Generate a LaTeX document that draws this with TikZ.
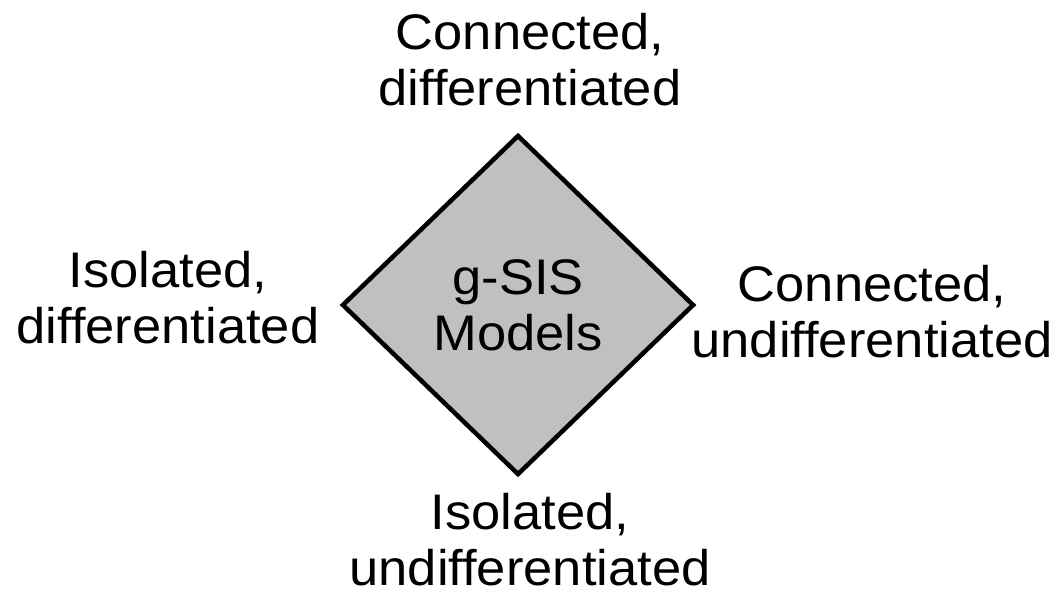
\documentclass[tikz,border=0pt]{standalone}
\usepackage{fontspec}
\setmainfont{Liberation Sans}[FakeStretch=1.05]
\usetikzlibrary{shapes.geometric}
\definecolor{coregray}{RGB}{192,192,192}
\begin{document}
\begin{tikzpicture}[x=1pt,y=1pt,
  label text/.style={align=center, inner sep=0pt,
    font=\fontsize{50}{56}\selectfont},
  core/.style={diamond, draw=black, line width=4.5pt, fill=coregray,
    minimum width=352pt, minimum height=340pt, inner sep=0pt,
    align=center, font=\fontsize{50}{56}\selectfont}]
  \useasboundingbox (0,0) rectangle (1059,-597);

  % central diamond
  \node[core] (models) at (518,-305) {g-SIS\\Models};

  % the four quadrant labels
  \node[label text] (top)    at (530,-60)  {Connected,\\differentiated};
  \node[label text] (left)   at (168,-298) {Isolated,\\differentiated};
  \node[label text] (right)  at (872,-312) {Connected,\\undifferentiated};
  \node[label text] (bottom) at (530,-540) {Isolated,\\undifferentiated};
\end{tikzpicture}
\end{document}
